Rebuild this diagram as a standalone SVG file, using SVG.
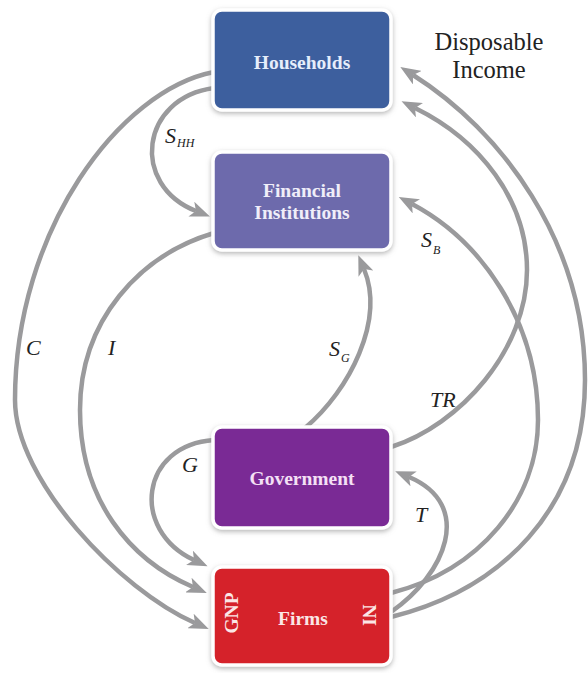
<svg xmlns="http://www.w3.org/2000/svg" width="588" height="673" viewBox="0 0 588 673">
<style>
.flow{fill:none;stroke:#9a9a9c;stroke-width:4.5;marker-end:url(#ah)}
.box{stroke:#ffffff;stroke-width:3.5;filter:url(#sh)}
.bt{font-family:"Liberation Serif",serif;font-weight:bold;font-size:19.5px;text-anchor:middle}
.lab{font-family:"Liberation Serif",serif;font-style:italic;font-size:22px;fill:#222}
.sub{font-size:12px}
.plain{font-family:"Liberation Serif",serif;font-size:24.5px;fill:#222;text-anchor:middle}
</style>
<defs>
<marker id="ah" markerUnits="userSpaceOnUse" markerWidth="20" markerHeight="16" refX="5" refY="8" orient="auto">
<path d="M0,0 L20,8 L0,16 L5,8 Z" fill="#9a9a9c"/>
</marker>
<filter id="sh" x="-10%" y="-10%" width="120%" height="125%">
<feGaussianBlur in="SourceAlpha" stdDeviation="2.5"/>
<feOffset dx="0" dy="2" result="b"/>
<feFlood flood-color="#888" flood-opacity="0.6"/>
<feComposite in2="b" operator="in"/>
<feMerge><feMergeNode/><feMergeNode in="SourceGraphic"/></feMerge>
</filter>
</defs>
<rect width="588" height="673" fill="#ffffff"/>
<g id="connectors">
<path class="flow" d="M214,88 C140,98 130,185 196,211"/>
<path class="flow" d="M214,72 C120,90 15,230 15,400 C15,480 120,590 195,623"/>
<path class="flow" d="M214,233 C140,255 80,320 80,410 C80,500 130,560 193,587"/>
<path class="flow" d="M214,440 C140,445 130,530 194,560"/>
<path class="flow" d="M305,428 C350,390 385,320 364,269"/>
<path class="flow" d="M391,447 C460,425 527,350 527,270 C527,200 480,140 415,108"/>
<path class="flow" d="M391,593 C480,570 538,500 538,420 C538,320 480,240 412,204"/>
<path class="flow" d="M391,617 C500,590 585,510 585,380 C585,240 500,130 413,75"/>
<path class="flow" d="M391,612 C445,575 475,505 409,477"/>
</g>
<g id="households">
<rect class="box" x="213" y="10" width="178" height="100" rx="9" fill="#3c5e9e"/>
<text class="bt" x="302" y="69" fill="#e6eefb">Households</text>
</g>
<g id="financial">
<rect class="box" x="213" y="152" width="178" height="98" rx="9" fill="#6d6aac"/>
<text class="bt" x="302" y="197" fill="#f0eef9">Financial</text>
<text class="bt" x="302" y="219" fill="#f0eef9">Institutions</text>
</g>
<g id="government">
<rect class="box" x="213" y="427" width="178" height="101" rx="9" fill="#7a2b95"/>
<text class="bt" x="302" y="485" fill="#f4e0f5">Government</text>
</g>
<g id="firms">
<rect class="box" x="213" y="567" width="178" height="98" rx="9" fill="#d5222b"/>
<text class="bt" x="303" y="625" fill="#fbe6e6">Firms</text>
<text class="bt" transform="translate(238,613) rotate(-90)" x="0" y="0" fill="#fbe6e6">GNP</text>
<text class="bt" transform="translate(363,615) rotate(90)" x="0" y="0" fill="#fbe6e6">NI</text>
</g>
<g id="labels">
<text class="lab" x="165" y="143">S<tspan class="sub" dx="1" dy="4">HH</tspan></text>
<text class="lab" x="26" y="355">C</text>
<text class="lab" x="108" y="355">I</text>
<text class="lab" x="329" y="356">S<tspan class="sub" dx="1" dy="6">G</tspan></text>
<text class="lab" x="421" y="247">S<tspan class="sub" dx="1" dy="7">B</tspan></text>
<text class="lab" x="430" y="407">TR</text>
<text class="lab" x="182" y="472">G</text>
<text class="lab" x="415" y="522">T</text>
<text class="plain" x="489" y="50">Disposable</text>
<text class="plain" x="489" y="78">Income</text>
</g>
</svg>
